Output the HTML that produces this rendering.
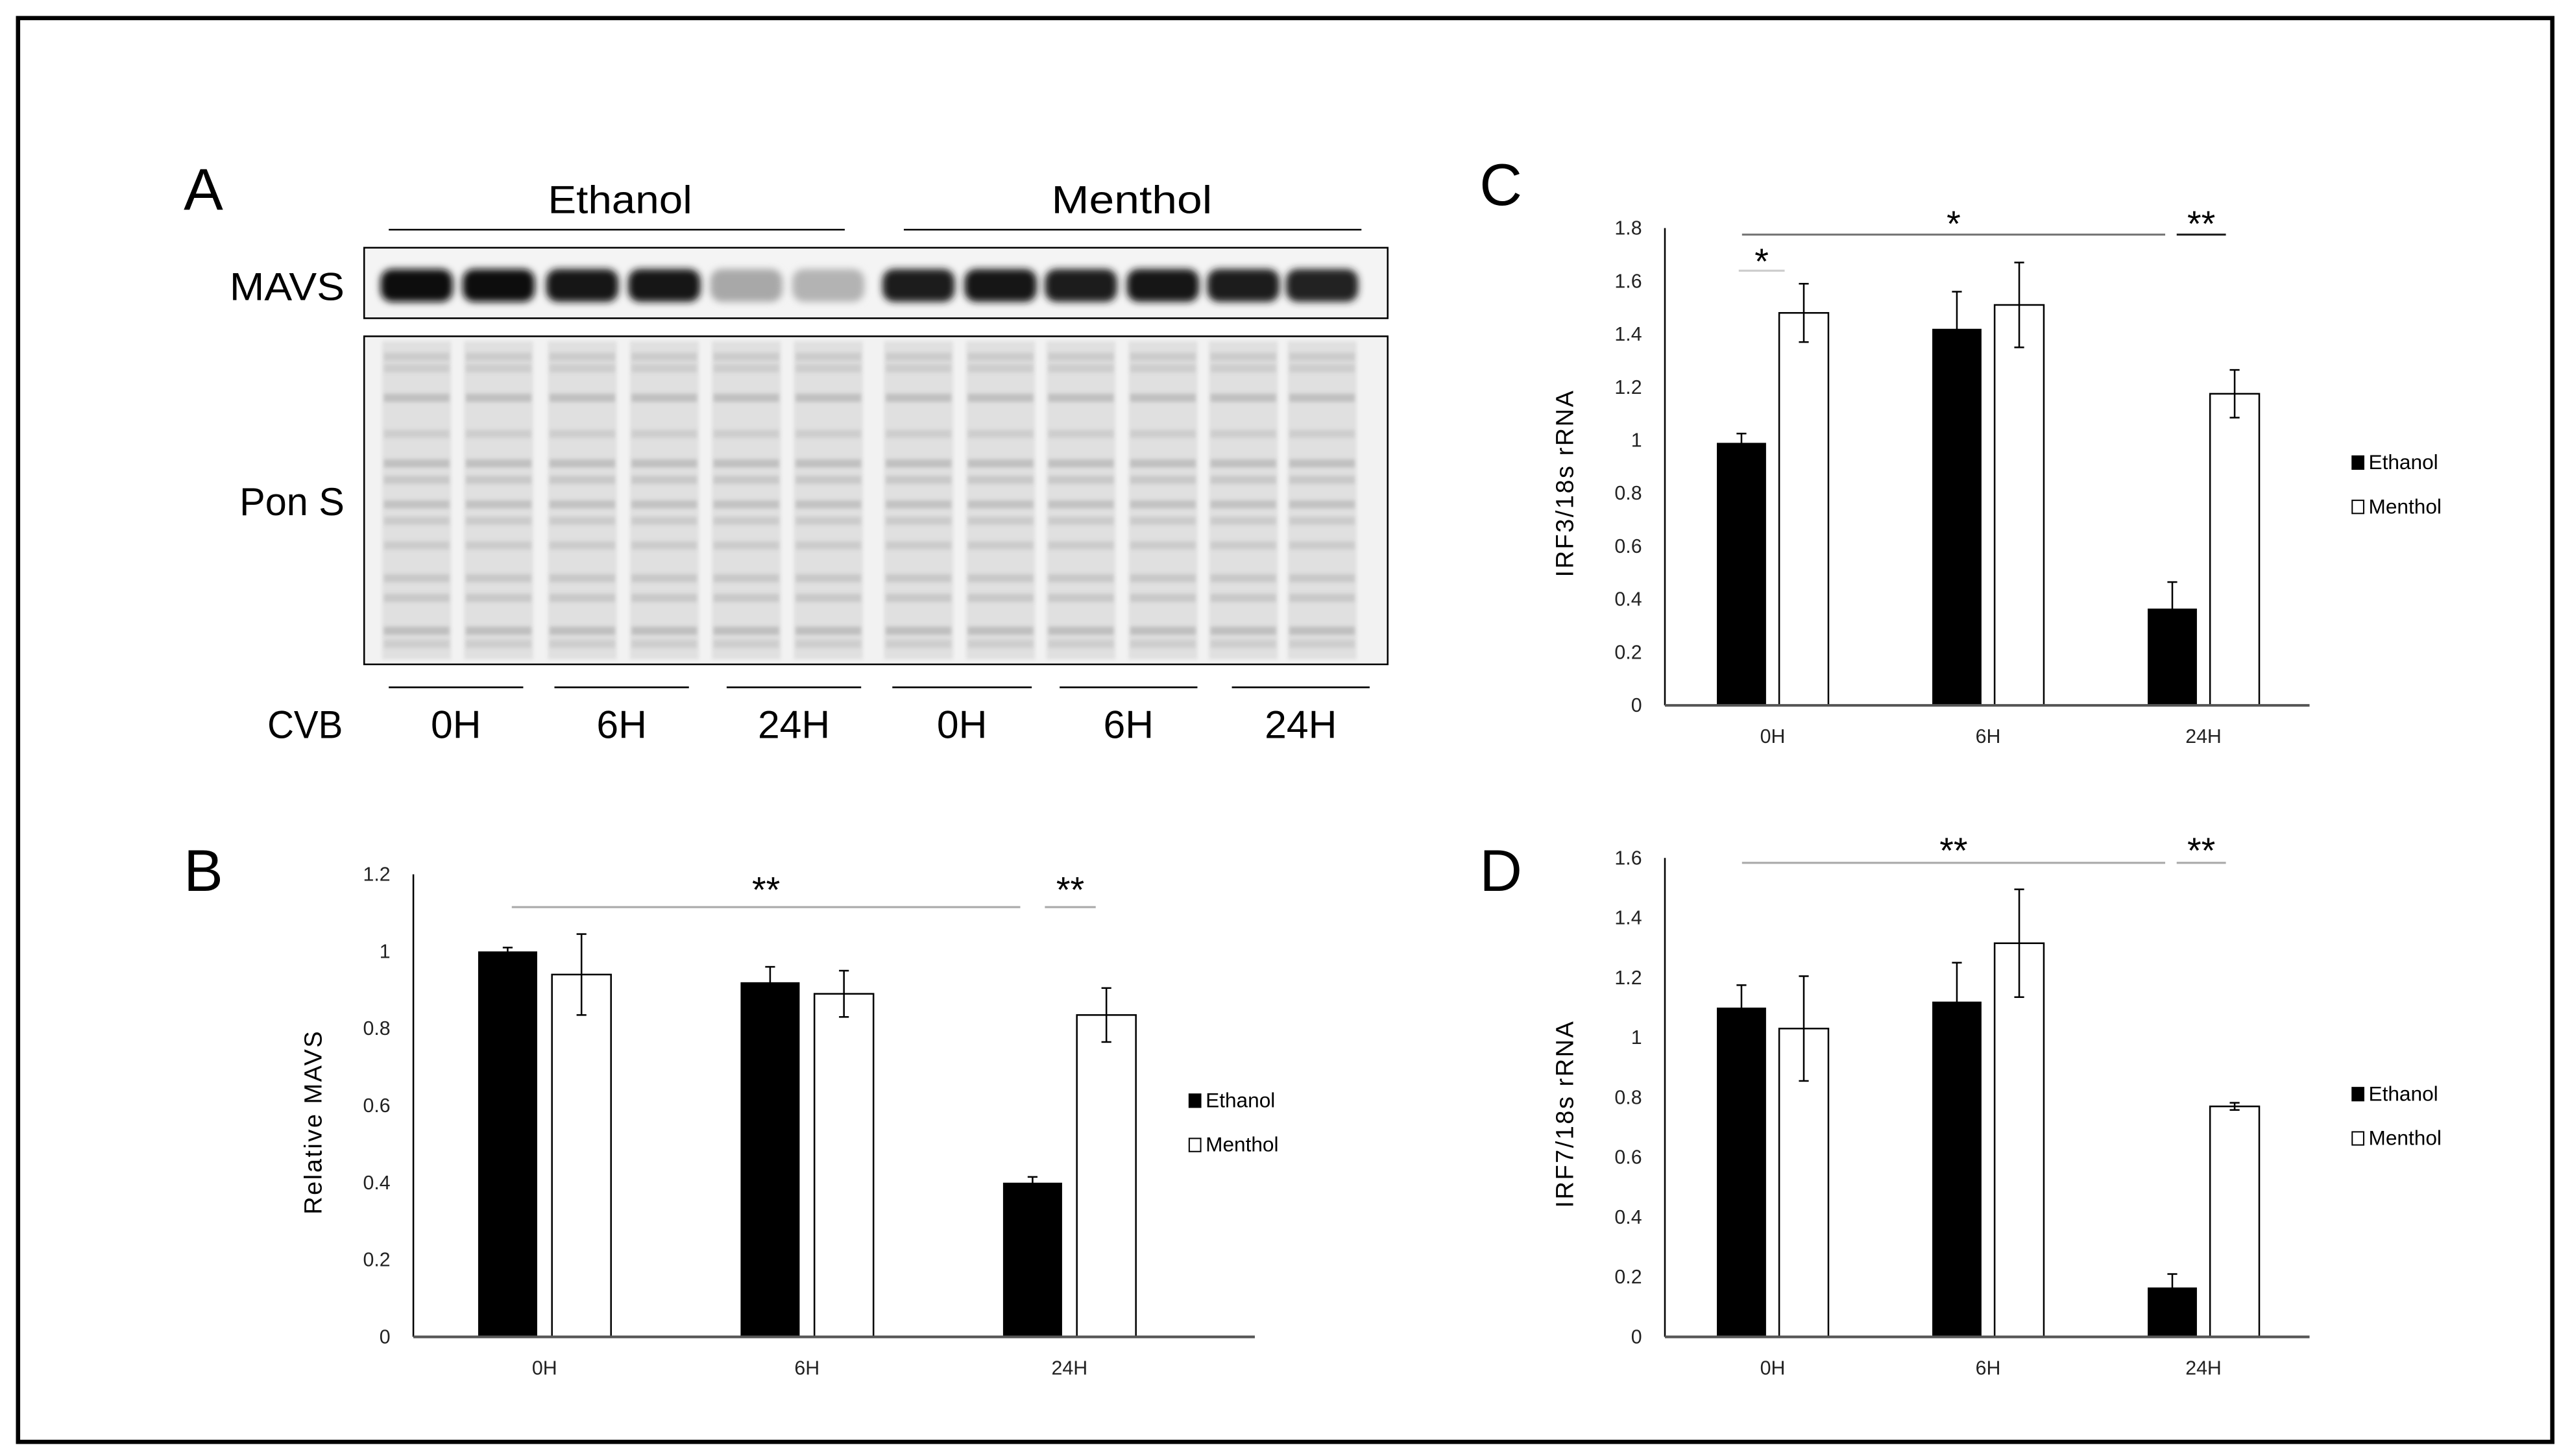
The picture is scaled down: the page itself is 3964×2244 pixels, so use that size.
<!DOCTYPE html>
<html><head><meta charset="utf-8"><style>
html,body{margin:0;padding:0;background:#fff;}
svg{display:block;}
text{font-family:"Liberation Sans",sans-serif;}
</style></head><body>
<svg id="fig" width="3964" height="2244" viewBox="0 0 1568 887.6" xmlns="http://www.w3.org/2000/svg">
<defs>
<filter id="blur2" x="-20%" y="-50%" width="140%" height="200%"><feGaussianBlur stdDeviation="2.2"/></filter>
<filter id="blur1" x="-20%" y="-50%" width="140%" height="200%"><feGaussianBlur stdDeviation="1.2"/></filter>
</defs>
<rect x="11" y="11" width="1545" height="868" fill="#fff" stroke="#000" stroke-width="2.6"/>
<g id="panelA">
<text x="112" y="128" font-size="36">A</text>
<text x="378" y="130" font-size="24" text-anchor="middle" textLength="88" lengthAdjust="spacingAndGlyphs">Ethanol</text>
<line x1="237" y1="140" x2="515" y2="140" stroke="#000" stroke-width="1"/>
<text x="690" y="130" font-size="24" text-anchor="middle" textLength="98" lengthAdjust="spacingAndGlyphs">Menthol</text>
<line x1="551" y1="140" x2="830" y2="140" stroke="#000" stroke-width="1"/>
<text x="210" y="183" font-size="24" text-anchor="end" textLength="70" lengthAdjust="spacingAndGlyphs">MAVS</text>
<text x="210" y="314" font-size="24" text-anchor="end" textLength="64" lengthAdjust="spacingAndGlyphs">Pon S</text>
<g id="mavsBlot"></g>
<g id="ponsBlot"></g>
<g id="laneLabels"></g>
</g>
<g id="chartB"></g>
<g id="chartC"></g>
<g id="chartD"></g>
</svg>
<script>
const NS='http://www.w3.org/2000/svg';
// ---- Blot data ----
const mavsIntensity=[1,1,0.95,0.95,0.3,0.25,0.92,0.95,0.92,0.95,0.93,0.9];
const laneCenters=[254,304,355,405,455,505,560,610,659,709,758,806];
const timeLabels=['0H','6H','24H','0H','6H','24H'];
// ---- Chart data ----
const categories=['0H','6H','24H'];
const seriesNames=['Ethanol','Menthol'];
const bEthanol=[1.0,0.92,0.40];
const bEthanolErr=[0.01,0.04,0.015];
const bMenthol=[0.94,0.89,0.835];
const bMentholErr=[0.105,0.06,0.07];
const bTicks=['0','0.2','0.4','0.6','0.8','1','1.2'];
const cEthanol=[0.99,1.42,0.365];
const cEthanolErr=[0.035,0.14,0.10];
const cMenthol=[1.48,1.51,1.175];
const cMentholErr=[0.11,0.16,0.09];
const cTicks=['0','0.2','0.4','0.6','0.8','1','1.2','1.4','1.6','1.8'];
const dEthanol=[1.10,1.12,0.165];
const dEthanolErr=[0.075,0.13,0.045];
const dMenthol=[1.03,1.315,0.77];
const dMentholErr=[0.175,0.18,0.012];
const dTicks=['0','0.2','0.4','0.6','0.8','1','1.2','1.4','1.6'];

function mk(tag,attrs,parent){const e=document.createElementNS(NS,tag);for(const k in attrs)e.setAttribute(k,attrs[k]);if(parent)parent.appendChild(e);return e;}

(function(){
const g=document.getElementById('mavsBlot');
const bg=mk('rect',{x:222,y:151,width:624,height:43,fill:'#f4f4f4',stroke:'#000','stroke-width':1},g);


mavsIntensity.forEach((v,i)=>{
 const c=Math.round(235-225*v);
 const b=mk('rect',{x:laneCenters[i]-22,y:164,width:44,height:20,rx:7,fill:`rgb(${c},${c},${c})`,filter:'url(#blur2)'},g);
 
 
});
const p=document.getElementById('ponsBlot');
const pbg=mk('rect',{x:222,y:205,width:624,height:200,fill:'#f2f2f2',stroke:'#000','stroke-width':1},p);


const bandsY=[215,222,240,262,280,290,305,315,330,350,362,382,390];
const bandsA=[0.2,0.18,0.3,0.18,0.3,0.22,0.28,0.2,0.2,0.22,0.22,0.32,0.18];
laneCenters.forEach((cx)=>{
 const l=mk('rect',{x:cx-21,y:208,width:42,height:194,fill:'#e0e0e0',filter:'url(#blur1)'},p);
 
 
 bandsY.forEach((by,j)=>{
  const bd=mk('rect',{x:cx-20,y:by,width:40,height:5,fill:`rgba(120,120,120,${bandsA[j]})`,filter:'url(#blur1)'},p);
  
  
 });
});
const L=document.getElementById('laneLabels');
const segs=[[237,319],[338,420],[443,525],[544,629],[646,730],[751,835]];
const cv=mk('text',{x:186,y:450,'font-size':24,'text-anchor':'middle',textLength:46,lengthAdjust:'spacingAndGlyphs'},L);
cv.textContent='CVB';


segs.forEach((s,i)=>{
 const ln=mk('line',{x1:s[0],y1:419,x2:s[1],y2:419,stroke:'#000','stroke-width':1},L);
 
 
 const t=mk('text',{x:(s[0]+s[1])/2,y:450,'font-size':24,'text-anchor':'middle'},L);
 t.textContent=timeLabels[i];
 
 
});
})();

function barChart(gid,cfg){
 const g=document.getElementById(gid);
 const {x0,x1,span,y0,yTop,maxV,ticks,eth,ethE,men,menE,cats,bw,gap,title,letter,sig,legX,legY}=cfg;
 const yS=v=>y0-(v/maxV)*(y0-yTop);
 const L=mk('text',{x:letter[0],y:letter[1],'font-size':36},g);L.textContent=letter[2];
 
 
 ticks.forEach(t=>{
  const tt=mk('text',{x:x0-14,y:yS(parseFloat(t))+4,'font-size':12,'text-anchor':'end',fill:'#222'},g);tt.textContent=t;
  
  
 });
 const ya=mk('line',{x1:x0,y1:yTop,x2:x0,y2:y0,stroke:'#000','stroke-width':1},g);
 
 
 const yt=mk('text',{x:0,y:0,'font-size':15,'text-anchor':'middle',transform:`translate(${x0-56},${(y0+yTop)/2+10}) rotate(-90)`,'letter-spacing':'1'},g);
 yt.textContent=title;
 
 
 const n=cats.length, step=span/n;
 cats.forEach((c,i)=>{
  const cx=x0+step*(i+0.5);
  const xe=cx-gap/2-bw, xm=cx+gap/2;
  const be=mk('rect',{x:xe,y:yS(eth[i]),width:bw,height:y0-yS(eth[i]),fill:'#000'},g);
  
  
  const bm=mk('rect',{x:xm,y:yS(men[i]),width:bw,height:y0-yS(men[i]),fill:'#fff',stroke:'#000','stroke-width':1},g);
  
  
  [[xe+bw/2,eth[i],ethE[i]],[xm+bw/2,men[i],menE[i]]].forEach(([ex,v,e])=>{
   const eg=mk('g',{stroke:'#000','stroke-width':1},g);
   
   
   mk('line',{x1:ex,y1:yS(v+e),x2:ex,y2:yS(v-e)},eg);
   mk('line',{x1:ex-3,y1:yS(v+e),x2:ex+3,y2:yS(v+e)},eg);
   mk('line',{x1:ex-3,y1:yS(v-e),x2:ex+3,y2:yS(v-e)},eg);
  });
  const xl=mk('text',{x:cx,y:y0+23,'font-size':12,'text-anchor':'middle',fill:'#222'},g);xl.textContent=c;
  
  
 });
 const xa=mk('line',{x1:x0,y1:y0,x2:x1,y2:y0,stroke:'#555','stroke-width':1.6},g);
 
 
 sig.forEach(s=>{
  const sl=mk('line',{x1:s[0],y1:s[2],x2:s[1],y2:s[2],stroke:s[5]||'#aaa','stroke-width':1.2},g);
  
  
  const st=mk('text',{x:(s[0]+s[1])/2,y:s[3],'font-size':22,'text-anchor':'middle'},g);st.textContent=s[4];
  
  
 });
 seriesNames.forEach((nm,i)=>{
  const y=legY+i*27;
  const sq=mk('rect',{x:legX,y:y-8,width:7,height:8,fill:i?'#fff':'#000',stroke:'#000','stroke-width':0.8},g);
  
  
  const lt=mk('text',{x:legX+10,y:y,'font-size':12.5},g);lt.textContent=nm;
  
  
 });
}
barChart('chartB',{x0:252,x1:765,span:480,y0:815,yTop:533,maxV:1.2,ticks:bTicks,eth:bEthanol,ethE:bEthanolErr,men:bMenthol,menE:bMentholErr,cats:categories,bw:36,gap:9,title:'Relative MAVS',letter:[112,543,'B'],legX:725,legY:675,
 sig:[[312,622,553,550,'**'],[637,668,553,550,'**']]});
barChart('chartC',{x0:1015,x1:1408,span:394,y0:430,yTop:139,maxV:1.8,ticks:cTicks,eth:cEthanol,ethE:cEthanolErr,men:cMenthol,menE:cMentholErr,cats:categories,bw:30,gap:8,title:'IRF3/18s rRNA',letter:[902,125,'C'],legX:1434,legY:286,
 sig:[[1062,1320,143,144,'*','#777'],[1327,1357,143,144,'**','#222'],[1060,1088,165,167,'*','#ccc']]});
barChart('chartD',{x0:1015,x1:1408,span:394,y0:815,yTop:523,maxV:1.6,ticks:dTicks,eth:dEthanol,ethE:dEthanolErr,men:dMenthol,menE:dMentholErr,cats:categories,bw:30,gap:8,title:'IRF7/18s rRNA',letter:[902,543,'D'],legX:1434,legY:671,
 sig:[[1062,1320,526,526,'**'],[1327,1357,526,526,'**']]});
</script>
</body></html>
